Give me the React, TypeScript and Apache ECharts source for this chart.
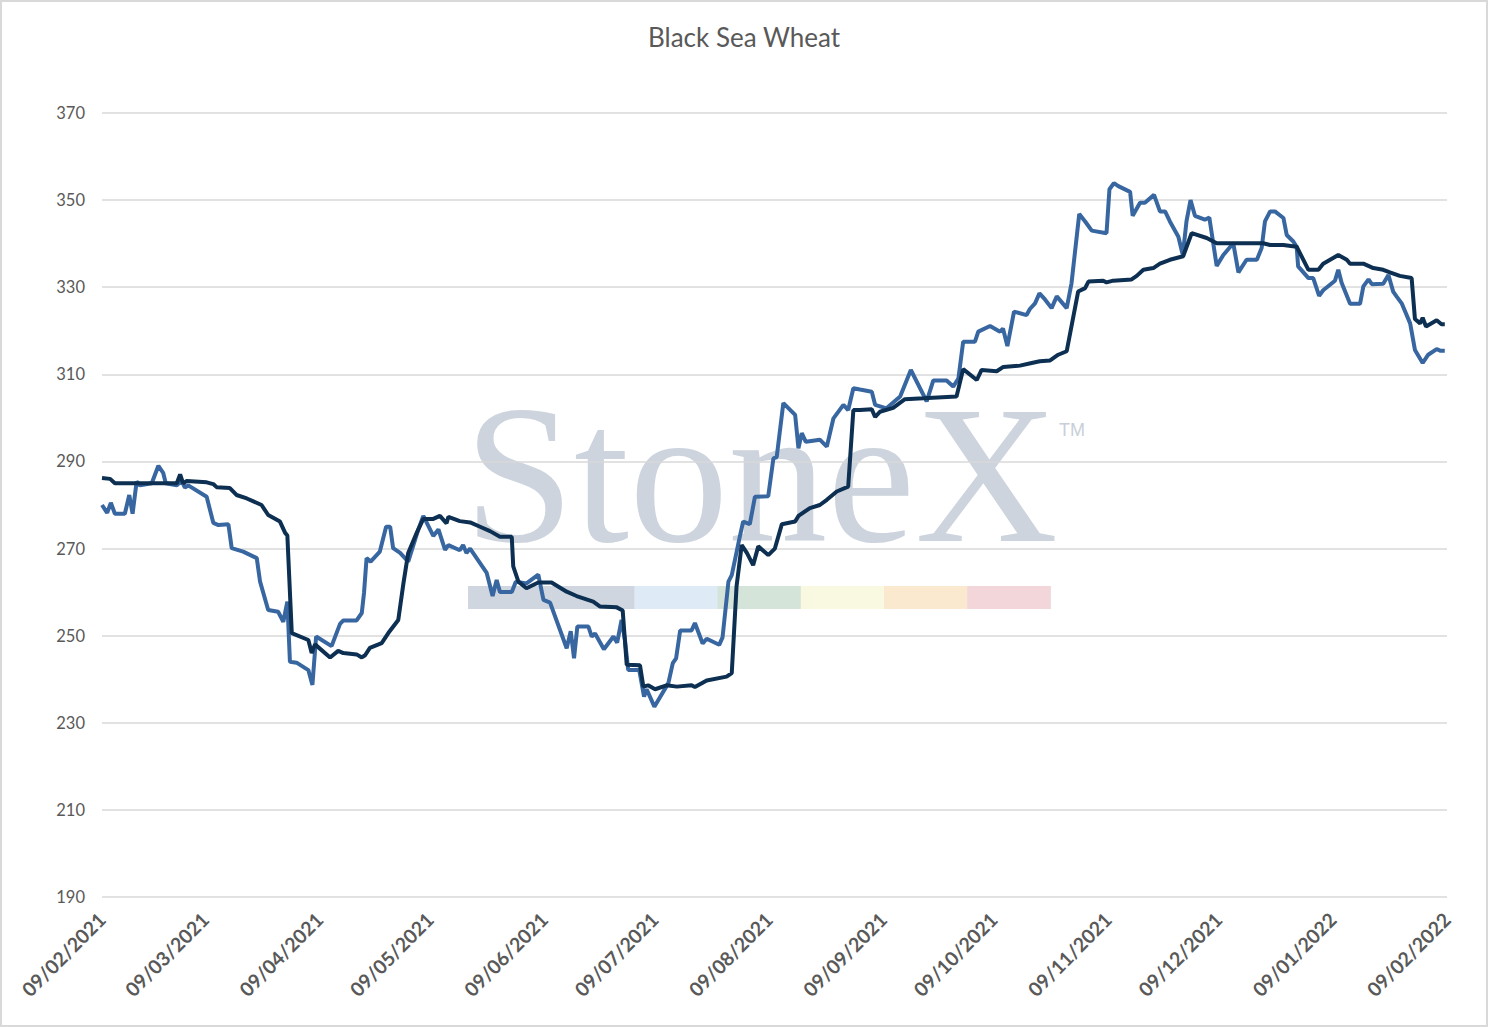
import React, { useEffect, useRef } from "react";
import * as echarts from "echarts";

const TITLE = "Black Sea Wheat";
const START_DATE = Date.UTC(2021, 1, 9);
const DAY_MS = 86400000;
const Y_MIN = 190;
const Y_MAX = 370;
const Y_STEP = 20;
const MONTH_LABEL_COUNT = 13;
const X_MAX_DAYS = 365;

// [days since 09/02/2021, value]
const darkLine: [number, number][] = [
  [0, 286.2], [2.2, 286], [3.5, 285], [19.4, 285], [20.3, 285], [21.2, 287], [22, 285], [23, 285.5],
  [28.4, 285.2], [30.2, 284.8], [31.1, 284.1], [34.7, 283.9], [36.5, 282.3], [39.3, 281.5], [43.3, 280],
  [45.1, 277.7], [48.3, 276.2], [49.7, 273.6], [50.3, 273], [51.5, 250.6], [56, 249], [56.9, 246],
  [57.8, 248], [61.9, 245], [64.1, 246.5], [65.5, 246], [69.1, 245.7], [70.5, 245], [71.4, 245.5],
  [72.7, 247.2], [75.9, 248.3], [77.7, 250.6], [80.4, 253.6], [81.8, 262], [83.1, 269], [85.4, 273.6],
  [87.2, 276.8], [89.9, 276.8], [91.7, 277.5], [93.5, 275.8], [94, 277.3], [97.1, 276.3], [99.9, 276],
  [102.6, 275], [105.3, 274], [108, 272.7], [111.2, 272.7], [111.6, 265.9], [113, 262.4], [115.2, 260.9],
  [118.4, 262.2], [122, 262.2], [126.1, 260.1], [128.8, 259.1], [133.3, 257.8], [135.1, 256.7],
  [139.7, 256.5], [141.3, 255.8], [142.4, 243.3], [146, 243.2], [146.9, 238.3], [148.2, 238.6],
  [150.1, 237.7], [153.2, 238.6], [156, 238.3], [160, 238.6], [160.9, 238.2], [164.1, 239.7],
  [169.5, 240.6], [170.9, 241.4], [172.2, 261.3], [173.6, 270.8], [175, 269], [176.7, 266.2],
  [178.1, 270.5], [180.8, 268.5], [182.6, 270], [184.5, 275.6], [188.1, 276.2], [189, 277.5],
  [192.1, 279.3], [194.8, 280], [196.7, 281.2], [199.4, 283.1], [202.5, 284.2], [203.9, 301.8],
  [205.7, 301.8], [208.9, 302], [209.8, 300.2], [211.1, 301.4], [214.7, 302.3], [217.9, 304.3],
  [222.9, 304.5], [231.9, 304.9], [233.7, 311.2], [237.4, 308.7], [238.7, 311], [242.8, 310.7],
  [244.6, 311.7], [249.1, 312], [252.3, 312.6], [254.5, 313], [257.3, 313.2], [259.5, 314.5],
  [261.8, 315.3], [264.9, 329], [266.8, 329.8], [267.7, 331.3], [271.7, 331.5], [272.6, 331.1],
  [274.4, 331.5], [279.4, 331.8], [280.8, 332.6], [282.6, 334], [285.3, 334.4], [287.1, 335.4],
  [289.8, 336.3], [293.4, 337.1], [295.7, 342.4], [299.8, 341.3], [302.5, 340.1], [315.1, 340.1],
  [317, 339.7], [320.6, 339.7], [324.2, 339.3], [327.4, 334], [330.1, 334], [331.4, 335.4],
  [335.5, 337.4], [337.8, 336.3], [338.7, 335.4], [342.3, 335.4], [345, 334.4], [347.7, 334],
  [349.5, 333.4], [352.2, 332.6], [355.4, 332.1], [356.3, 322.7], [357.7, 321.7], [358.4, 323],
  [359.3, 321], [362.2, 322.4], [363.5, 321.5], [364.4, 321.5],
];

const blueLine: [number, number][] = [
  [0, 280], [1.4, 278.2], [2.4, 280.5], [3.5, 278], [6.2, 278], [7.4, 282.3], [8.3, 278], [9.4, 285.4],
  [10.3, 284.5], [13.5, 285], [15.3, 289], [16.6, 287.4], [17.3, 285], [20.3, 284.5], [21.6, 285.6],
  [22.5, 284], [23.4, 284.5], [28.4, 281.9], [30.2, 275.9], [31.6, 275.4], [34.3, 275.6], [35.2, 270.1],
  [38.3, 269.3], [42, 267.8], [42.9, 262.4], [45.1, 255.9], [47.8, 255.5], [49.2, 253.2], [50.3, 257.8],
  [51, 244], [52.8, 243.8], [56, 242.1], [57.1, 238.7], [58.1, 249.8], [62.3, 247.6], [64.6, 252.7],
  [65.5, 253.5], [69.1, 253.5], [70.5, 255.2], [71.1, 259.8], [71.8, 267.8], [72.9, 267], [75.4, 269.3],
  [77.1, 275], [78.2, 275], [79, 270.1], [80.9, 269], [83.1, 267], [85.8, 274.3], [87.2, 277.5],
  [89.9, 272.9], [91.3, 274.4], [93.1, 269.7], [94, 270.8], [97.1, 269.6], [98, 270.8], [98.9, 269],
  [99.9, 270], [104.4, 264.4], [106, 259.1], [107.1, 262.8], [108, 260], [111.2, 260], [112.3, 262.4],
  [115.2, 262], [118.4, 264], [119.8, 258.2], [121.6, 257.6], [124.3, 251.3], [126.1, 247.1],
  [127.2, 251], [128.1, 244.8], [129, 252.1], [132, 252.1], [132.9, 249.8], [133.8, 250.5],
  [136.2, 246.9], [138.8, 249.8], [139.8, 248.4], [141, 253.6], [141.9, 249.1], [142.8, 242.1],
  [145.8, 242.1], [147.1, 236], [147.8, 237.7], [149.9, 233.7], [153.7, 239.1], [154.9, 243.7],
  [155.8, 244.8], [156.9, 251.2], [160, 251.2], [160.9, 252.9], [163, 248.2], [164.1, 249.3],
  [167.5, 247.9], [168.4, 249.6], [170, 262.4], [170.9, 263.9], [173.1, 272.8], [174, 276.2],
  [175.8, 275.6], [177.2, 281.9], [180.8, 282], [182.2, 290.7], [183.1, 291], [184.9, 303.4],
  [188.1, 300.7], [189, 293], [189.9, 296.5], [191, 294.5], [194.8, 295], [196.7, 293.4], [198.5, 299.9],
  [201.2, 303], [202.5, 301.8], [203.9, 306.8], [205.7, 306.5], [208.9, 306], [209.8, 303],
  [212.9, 302.2], [216.6, 304.9], [219.5, 311], [223.8, 303.8], [225.6, 308.6], [229.2, 308.6],
  [231, 307.2], [232.4, 309], [233.7, 317.5], [236.9, 317.5], [237.8, 319.8], [241, 321.1],
  [243.7, 319.8], [244.5, 320.5], [245.7, 316.5], [247.5, 324.4], [250.9, 323.6], [251.8, 325],
  [253.2, 326.3], [254.4, 328.6], [255.9, 327.2], [257.7, 325.2], [259.1, 327.9], [261.8, 325.2],
  [263.1, 330.9], [265.2, 346.8], [266.8, 345.1], [268.6, 343], [272.6, 342.4], [273.4, 352.5],
  [274.6, 353.9], [275.8, 353.2], [279, 351.9], [279.7, 346.4], [281.7, 349.4], [283, 349.4],
  [285.5, 351.2], [287.1, 347.4], [288.5, 347.4], [289.8, 345.1], [292.1, 341.6], [293.3, 337.4],
  [294.3, 345.1], [295.4, 350], [296.6, 346.4], [299.3, 345.5], [300.5, 346], [302.5, 334.9],
  [304.3, 337.4], [307, 340.1], [308.4, 333.4], [310.6, 336.3], [313.4, 336.3], [314.7, 339],
  [315.6, 345.1], [317, 347.4], [318.3, 347.4], [320.6, 345.9], [321.5, 342], [323.3, 340.5],
  [324.2, 339.3], [324.6, 334.8], [327.4, 332.1], [328.7, 332.1], [330.3, 328], [331.4, 329.3],
  [334.6, 331.5], [335.5, 334], [336.4, 331], [338.7, 326.2], [341.4, 326.2], [342.3, 330.2],
  [343.7, 331.8], [344.6, 330.7], [347.7, 330.8], [349.1, 332.8], [350.4, 329], [351.3, 327.9],
  [352.7, 326.3], [355, 321.7], [356.3, 315.6], [358.4, 312.6], [359.9, 314.5], [362.2, 315.8],
  [363.3, 315.4], [364.4, 315.4],
];

const WATERMARK_TEXT = "StoneX";
const WATERMARK_BAR_COLORS = ["#cfd6df", "#cfd6df", "#deeaf5", "#d4e4d9", "#f9f8e1", "#fae8cf", "#f2d6d9"];

const pad = (n: number) => (n < 10 ? "0" + n : "" + n);
const formatDay = (days: number) => {
  const d = new Date(START_DATE + Math.round(days) * DAY_MS);
  return `${pad(d.getUTCDate())}/${pad(d.getUTCMonth() + 1)}/${d.getUTCFullYear()}`;
};
const monthTickDays = Array.from({ length: MONTH_LABEL_COUNT }, (_, i) =>
  Math.round((Date.UTC(2021, 1 + i, 9) - START_DATE) / DAY_MS)
);

export default function App() {
  const ref = useRef<HTMLDivElement>(null);
  useEffect(() => {
    document.body.style.margin = "0";
    if (!ref.current) return;
    const chart = echarts.init(ref.current, undefined, { renderer: "svg" });
    const segW = 83.2;
    const bar = WATERMARK_BAR_COLORS.map((c, i) => ({
      type: "rect",
      z: -1,
      shape: { x: 468 + i * segW, y: 586, width: segW + 0.5, height: 23 },
      style: { fill: c },
      silent: true,
    }));
    chart.setOption({
      animation: false,
      backgroundColor: "#ffffff",
      title: {
        text: TITLE,
        left: "center",
        top: 19,
        textStyle: { fontFamily: "Lato", fontSize: 26, fontWeight: "normal", color: "#595959" },
      },
      grid: { left: 102, right: 41, top: 113, bottom: 130, containLabel: false },
      xAxis: {
        type: "value",
        min: 0,
        max: X_MAX_DAYS,
        axisLine: { show: false },
        axisTick: { show: false },
        splitLine: { show: false },
        axisLabel: {
          customValues: monthTickDays,
          formatter: (v: number) => formatDay(v),
          rotate: 45,
          margin: 19,
          color: "#595959",
          fontFamily: "Lato",
          fontWeight: "bold",
          fontSize: 19.5,
        },
      },
      yAxis: {
        type: "value",
        min: Y_MIN,
        max: Y_MAX,
        interval: Y_STEP,
        z: 1,
        axisLine: { show: false },
        axisTick: { show: false },
        splitLine: { lineStyle: { color: "#d9d9d9", width: 1.5 } },
        axisLabel: { margin: 17, color: "#595959", fontFamily: "Lato", fontSize: 16.5 },
      },
      graphic: [
        {
          type: "text",
          z: -1,
          silent: true,
          x: 464,
          y: 573,
          style: {
            text: WATERMARK_TEXT,
            font: "198px 'Liberation Serif'",
            fill: "#cdd4dd",
            verticalAlign: "bottom",
          },
        },
        {
          type: "text",
          z: -1,
          silent: true,
          x: 1059,
          y: 421,
          style: { text: "TM", font: "18px 'Liberation Sans'", fill: "#c8cfd9" },
        },
        ...bar,
        {
          type: "rect",
          z: 100,
          silent: true,
          shape: { x: 1, y: 1, width: 1486, height: 1025 },
          style: { fill: "none", stroke: "#d9d9d9", lineWidth: 2 },
        },
      ],
      series: [
        {
          name: "Blue",
          type: "line",
          data: blueLine,
          showSymbol: false,
          z: 3,
          lineStyle: { color: "#3766a0", width: 4 },
          itemStyle: { color: "#3766a0" },
        },
        {
          name: "Navy",
          type: "line",
          data: darkLine,
          showSymbol: false,
          z: 4,
          lineStyle: { color: "#0c2f52", width: 4 },
          itemStyle: { color: "#0c2f52" },
        },
      ],
    });
    return () => chart.dispose();
  }, []);
  return <div ref={ref} style={{ width: 1488, height: 1027 }} />;
}
